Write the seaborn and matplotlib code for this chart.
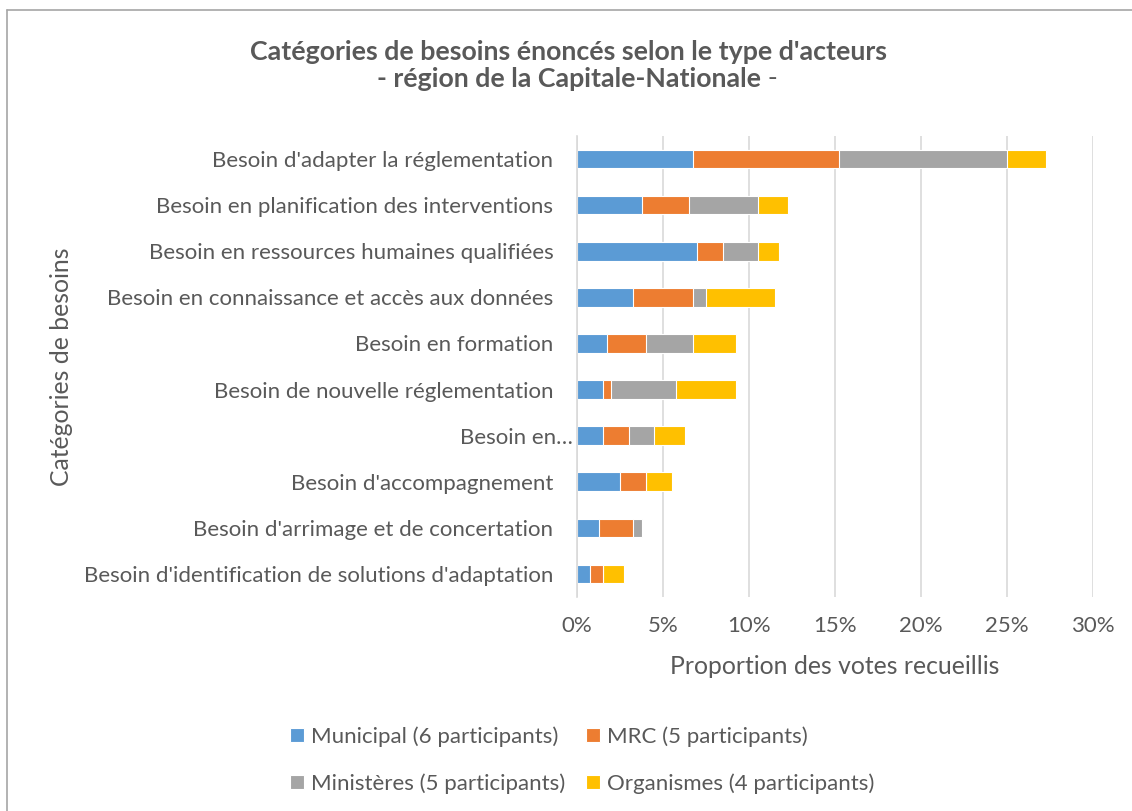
import pandas as pd
import matplotlib.pyplot as plt
import seaborn as sns
from matplotlib.lines import Line2D
from matplotlib.ticker import PercentFormatter
from matplotlib.transforms import ScaledTranslation

# values, in % of votes
categories = [
    "Besoin d'adapter la réglementation",
    "Besoin en planification des interventions",
    "Besoin en ressources humaines qualifiées",
    "Besoin en connaissance et accès aux données",
    "Besoin en formation",
    "Besoin de nouvelle réglementation",
    "Besoin en…",
    "Besoin d'accompagnement",
    "Besoin d'arrimage et de concertation",
    "Besoin d'identification de solutions d'adaptation",
]
municipal = [6.75, 3.75, 7.0, 3.25, 1.75, 1.5, 1.5, 2.5, 1.25, 0.75]
mrc = [8.5, 2.75, 1.5, 3.5, 2.25, 0.5, 1.5, 1.5, 2.0, 0.75]
ministeres = [9.75, 4.0, 2.0, 0.75, 2.75, 3.75, 1.5, 0.0, 0.5, 0.0]
organismes = [2.25, 1.75, 1.25, 4.0, 2.5, 3.5, 1.75, 1.5, 0.0, 1.25]

series = ["Municipal (6 participants)", "MRC (5 participants)",
          "Ministères (5 participants)", "Organismes (4 participants)"]
colors = ["#5B9BD5", "#ED7D31", "#A5A5A5", "#FFC000"]
text_color = "#595959"

sns.set_style("white")
plt.rcParams["font.family"] = ["Lato", "DejaVu Sans"]

df = pd.DataFrame({"categorie": categories, "Municipal": municipal, "MRC": mrc,
                   "Ministeres": ministeres, "Organismes": organismes})
cols = ["Municipal", "MRC", "Ministeres", "Organismes"]
cum = df[cols].cumsum(axis=1)

fig = plt.figure(figsize=(11.32, 8.11), dpi=100)
ax = fig.add_axes([577 / 1132, 1 - 597 / 811, (1093 - 577) / 1132, (597 - 136) / 811])

# stacked bars: draw the cumulative totals from the longest down
for col, name, color in reversed(list(zip(cols, series, colors))):
    sns.barplot(x=cum[col], y=df["categorie"], orient="h", color=color,
                saturation=1, label=name, width=0.405, edgecolor="white",
                linewidth=0.8, ax=ax)

ax.set_xlim(0, 30)
ax.set_xticks([0, 5, 10, 15, 20, 25, 30])
ax.xaxis.set_major_formatter(PercentFormatter(decimals=0))
ax.grid(axis="x", color="#D9D9D9", linewidth=1.2)
ax.set_axisbelow(True)
for side in ["top", "right", "bottom"]:
    ax.spines[side].set_visible(False)
ax.spines["left"].set_color("#D9D9D9")
ax.spines["left"].set_linewidth(1.2)
ax.tick_params(axis="both", length=0, labelsize=16, colors=text_color)
ax.tick_params(axis="y", pad=17)
ax.tick_params(axis="x", pad=14)

ax.set_xlabel("Proportion des votes recueillis", fontsize=17.8, color=text_color, va="center")
ax.xaxis.set_label_coords(0.5, -(667 - 597) / 461)
ax.set_ylabel("Catégories de besoins", fontsize=17.8, color=text_color)
ax.yaxis.set_label_coords(-(577 - 73) / 516, 0.5)

handles, labels = ax.get_legend_handles_labels()
ax.get_legend().remove()
handles = handles[::-1]
labels = labels[::-1]
order = [0, 2, 1, 3]
fig.legend([handles[i] for i in order], [labels[i] for i in order], ncol=2,
           loc="center", bbox_to_anchor=(582 / 1132, 1 - 760 / 811), frameon=False,
           fontsize=16, labelcolor=text_color, handlelength=0.63,
           handleheight=0.63, handletextpad=0.3, columnspacing=0.95,
           labelspacing=1.2)

fig.canvas.draw()
# the truncated label sits further right in the original
lab = ax.get_yticklabels()[6]
lab.set_transform(lab.get_transform() + ScaledTranslation(19 / 100, 0, fig.dpi_scale_trans))

# title, the last dash is not bold
fig.text(569 / 1132, 1 - 60 / 811, "Catégories de besoins énoncés selon le type d'acteurs",
         ha="center", va="baseline", fontsize=19.3, fontweight="bold", color=text_color)
t2 = fig.text(569 / 1132, 1 - 87 / 811, "- région de la Capitale-Nationale",
              ha="center", va="baseline", fontsize=19.3, fontweight="bold", color=text_color)
ax.annotate(" -", xy=(1, 0), xycoords=t2, va="bottom", ha="left",
            fontsize=19.3, color=text_color, annotation_clip=False)

# chart border (left and top edges show)
fig.add_artist(Line2D([7 / 1132, 7 / 1132], [0, 1 - 10 / 811], color="#A6A6A6", linewidth=1.2))
fig.add_artist(Line2D([7 / 1132, 1], [1 - 10 / 811, 1 - 10 / 811], color="#A6A6A6", linewidth=1.2))

fig.savefig("out.png", dpi=100)
